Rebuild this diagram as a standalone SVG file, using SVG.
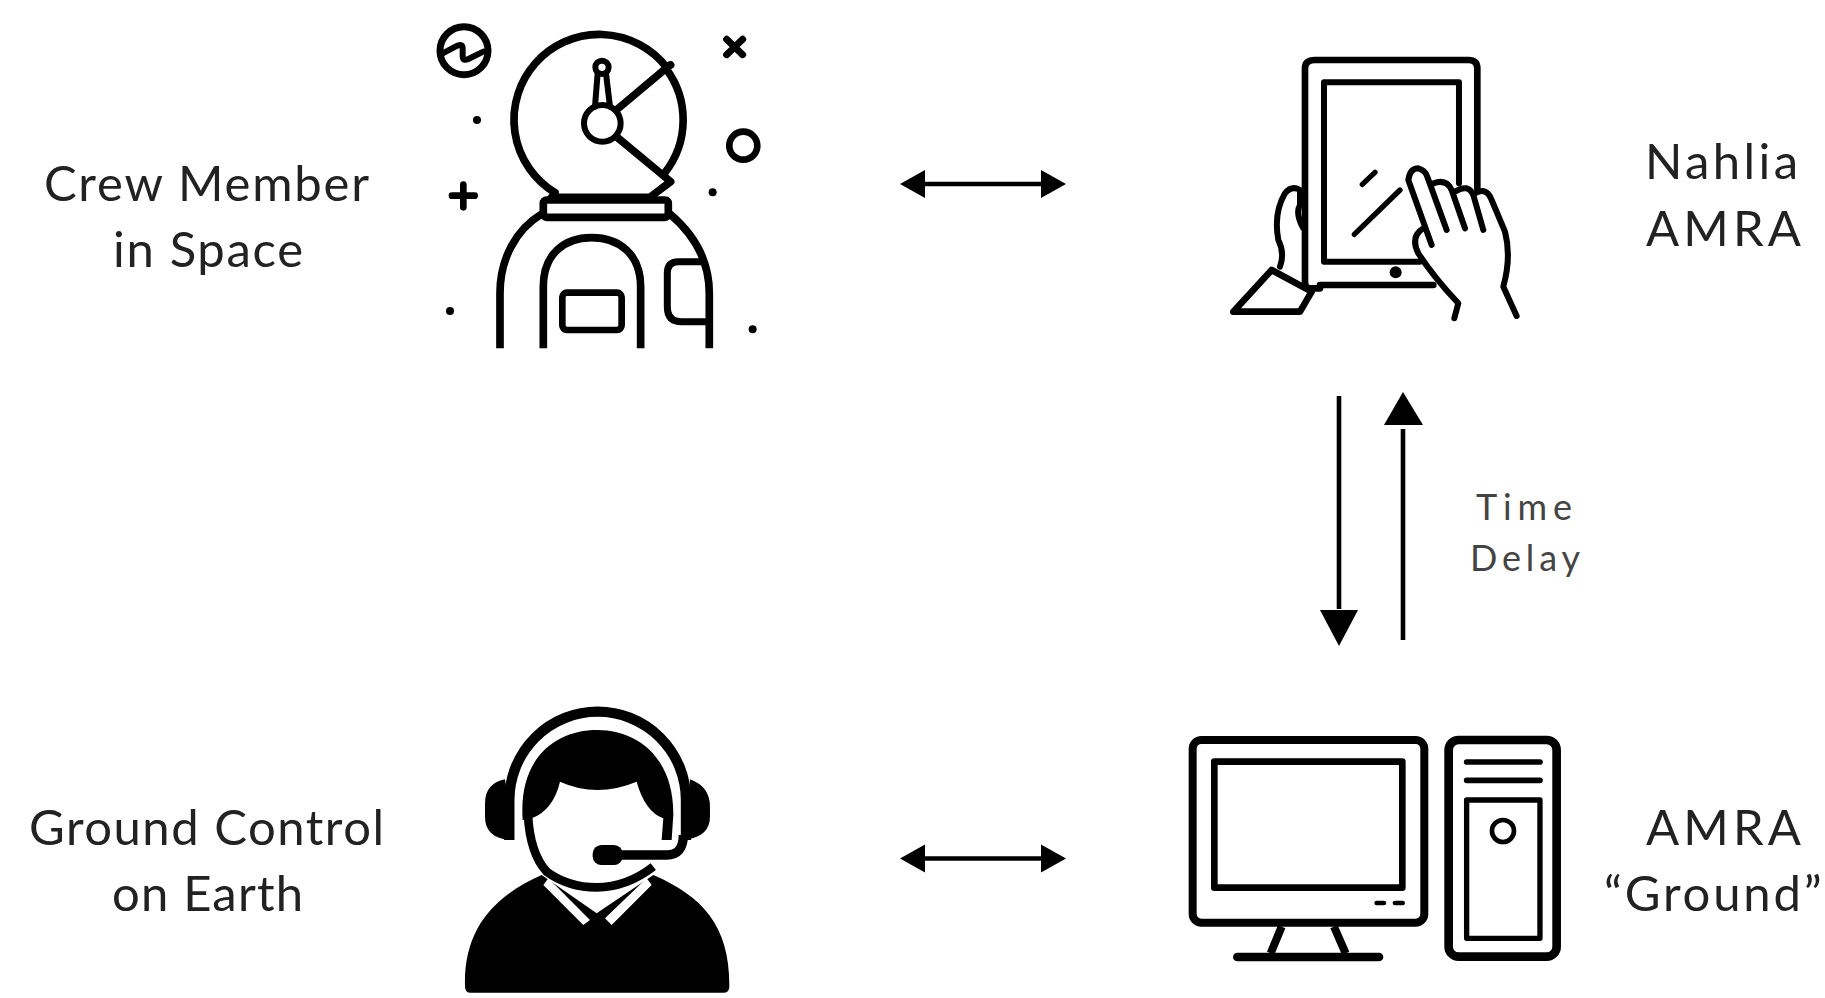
<svg xmlns="http://www.w3.org/2000/svg" width="1825" height="998" viewBox="0 0 1825 998">
<defs>
<style>
.l{font-family:Lato,"Liberation Sans",sans-serif;font-size:49px;fill:#222}
.t{font-family:Lato,"Liberation Sans",sans-serif;font-size:36px;fill:#444}
.i{fill:none;stroke:#000;stroke-linecap:round;stroke-linejoin:round}
.c{fill:none;stroke:#000;stroke-width:4.6}
.h{fill:#000;stroke:none}
</style>
</defs>
<rect width="1825" height="998" fill="#fff"/>
<g id="connectors">
<path class="c" d="M925 184H1041"/><path class="h" d="M900 184L925 170V198ZM1066 184L1041 170V198Z"/>
<path class="c" d="M925 858.500H1041"/><path class="h" d="M900 858.500L925 844.500V872.500ZM1066 858.500L1041 844.500V872.500Z"/>
<path class="c" d="M1339 396V609"/><path class="h" d="M1320 610H1358L1339 646Z"/>
<path class="c" d="M1403 429V640"/><path class="h" d="M1384 425H1423L1403 392Z"/>
</g>
<g id="label-time-delay">
<text class="t" x="1476" y="520" textLength="96">Time</text>
<text class="t" x="1470" y="571" textLength="110">Delay</text>
</g>
<g id="crew-member">
<text class="l" x="44" y="200.500" textLength="325">Crew Member</text>
<text class="l" x="113" y="267" textLength="190">in Space</text>
<g class="i" transform="translate(420 10) scale(.3333)" stroke-width="23">
<path d="M752 165L740 172A256 256 0 1 0 405 548L395 562H690L752 515L595 385M750 165L595 295M738 176A256 256 0 0 1 735 488"/>
<circle cx="547" cy="340" r="55" fill="#fff" stroke-width="18"/>
<circle cx="546" cy="172" r="20" stroke-width="18"/>
<path d="M533 190L525 290M558 190L570 290" stroke-width="18"/>
<rect x="370" y="570" width="375" height="52" rx="10"/>
<g stroke-linecap="butt">
<path d="M365 612C285 660 240 750 240 850V1015M750 612C830 680 868 760 868 850V1015"/>
<path d="M370 1015V830C370 735 430 683 515 683C600 683 662 735 662 830V1015"/>
</g>
<rect x="427" y="848" width="178" height="112" rx="14" stroke-width="20"/>
<path d="M850 755H775Q742 755 742 790V890Q742 935 785 935H860" stroke-width="21"/>
<circle cx="132" cy="122" r="72" stroke-width="21"/>
<path d="M68 130L112 107Q128 100 128 115V138Q128 155 145 147L190 125" stroke-width="18"/>
<path d="M920 88L968 134M968 88L920 134" stroke-width="21"/>
<path d="M96 557H164M130 524V592" stroke-width="20"/>
<circle cx="970" cy="407" r="42" stroke-width="20"/>
<g fill="#000" stroke="none"><circle cx="171" cy="330" r="12"/><circle cx="878" cy="547" r="12"/><circle cx="90" cy="903" r="12"/><circle cx="998" cy="958" r="12"/></g>
</g>
</g>
<g id="nahlia-amra">
<text class="l" x="1645" y="179" textLength="153">Nahlia</text>
<text class="l" x="1646" y="246" textLength="155">AMRA</text>
<g class="i" transform="translate(1220 40) scale(.3333)" stroke-width="20">
<path d="M300 745H270Q255 745 255 725V85Q255 60 285 60H745Q772 60 772 85V445M640 735H300"/>
<path d="M312 127H717V430M600 665H312V127" stroke-width="18"/>
<circle cx="527" cy="697" r="18" fill="#000" stroke="none"/>
<path d="M427 433L465 397M403 583L540 450" stroke-width="16"/>
<path d="M635 615L565 420Q570 385 595 385Q615 390 622 410L680 570M640 430Q680 415 695 450L735 565M705 455Q745 430 760 465L790 570M765 460Q800 440 815 480L855 575Q875 650 850 740L890 828M610 565Q570 590 595 640Q640 710 715 790L703 835" fill="#fff" stroke-width="18"/>
<path d="M180 680Q195 640 175 600Q160 520 195 460Q215 435 240 450V495Q225 520 250 565" fill="#fff" stroke-width="18"/>
<path d="M155 690L275 755L240 815H40Z" fill="#fff"/>
</g>
</g>
<g id="ground-control">
<text class="l" x="29" y="845" textLength="355">Ground Control</text>
<text class="l" x="112" y="911" textLength="191">on Earth</text>
<g transform="translate(450 700) scale(.3333)">
<path class="h" d="M45 860C40 680 140 585 275 525L440 640L610 525C760 590 840 680 838 860Q838 878 820 878H62Q45 878 45 860Z"/>
<path d="M295 535L420 660L400 675L280 555ZM590 535L605 555L485 675L465 655ZM400 585H490L445 628Z" fill="#fff"/>
<path class="h" d="M165 238Q105 250 105 310V350Q105 418 190 420ZM720 238Q780 260 780 320V350Q780 405 715 418Z"/>
<path d="M178 420V300A265 265 0 0 1 708 300V420" fill="none" stroke="#000" stroke-width="31"/>
<path d="M225 350Q235 470 290 520Q360 570 440 570Q530 570 612 498L660 420V340H240Z" fill="#fff"/>
<path d="M234 345Q240 460 290 515Q355 562 440 562Q530 562 610 500" fill="none" stroke="#000" stroke-width="26"/>
<path class="h" d="M218 360C205 170 320 90 442 90C570 90 672 180 670 345L665 420H635L640 355Q585 335 560 245Q440 295 330 245Q310 330 245 355Z"/>
<path d="M510 465H650Q700 465 700 405" fill="none" stroke="#000" stroke-width="28"/>
<rect x="428" y="435" width="90" height="60" rx="26" fill="#000"/>
</g>
</g>
<g id="amra-ground">
<text class="l" x="1646" y="845" textLength="155">AMRA</text>
<text class="l" x="1604" y="911" letter-spacing="2.800">“Ground”</text>
<g class="i" transform="translate(1180 720) scale(.3333)">
<rect x="38" y="60" width="695" height="548" rx="26" stroke-width="24"/>
<rect x="103" y="125" width="564" height="378" stroke-width="20"/>
<path d="M590 549H612M645 549H668" stroke-width="14"/>
<path d="M305 620L272 700M462 620L497 700" stroke-width="24" stroke-linecap="butt"/>
<path d="M172 711H597" stroke-width="26"/>
<rect x="806" y="60" width="324" height="650" rx="30" stroke-width="26"/>
<path d="M860 126H1080M860 181H1080" stroke-width="17"/>
<rect x="860" y="240" width="220" height="415" stroke-width="16"/>
<circle cx="969" cy="333" r="33" stroke-width="14"/>
</g>
</g>
</svg>
